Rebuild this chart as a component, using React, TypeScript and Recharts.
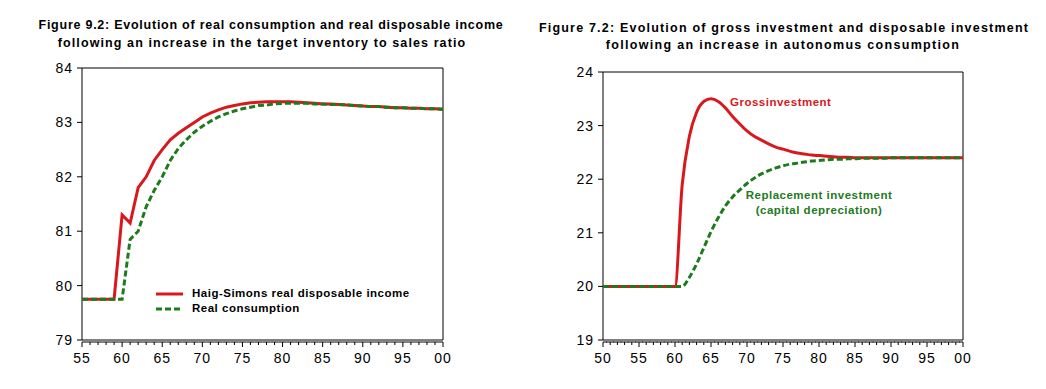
import React from 'react';
import { LineChart, Line, XAxis, YAxis, ReferenceArea } from 'recharts';

const RED = '#d8181c';
const GREEN = '#1d7a1d';
const FONT = 'Arial, "Liberation Sans", sans-serif';

// Figure 9.2 — years 1955..2000
const years92 = [
  1955, 1956, 1957, 1958, 1959, 1960, 1961, 1962, 1963, 1964, 1965, 1966,
  1967, 1968, 1969, 1970, 1971, 1972, 1973, 1974, 1975, 1976, 1977, 1978,
  1979, 1980, 1981, 1982, 1983, 1984, 1985, 1986, 1987, 1988, 1989, 1990,
  1991, 1992, 1993, 1994, 1995, 1996, 1997, 1998, 1999, 2000,
];
const haigSimonsIncome = [
  79.75, 79.75, 79.75, 79.75, 79.75, 81.3, 81.15, 81.8, 82.0, 82.3, 82.5, 82.68,
  82.8, 82.9, 83.0, 83.1, 83.17, 83.23, 83.28, 83.31, 83.34, 83.36, 83.37, 83.38,
  83.38, 83.38, 83.38, 83.37, 83.36, 83.35, 83.34, 83.34, 83.33, 83.32, 83.31, 83.3,
  83.29, 83.29, 83.28, 83.27, 83.27, 83.26, 83.26, 83.25, 83.25, 83.24,
];
const realConsumption = [
  79.75, 79.75, 79.75, 79.75, 79.75, 79.75, 80.85, 81.0, 81.45, 81.75, 82.0, 82.3,
  82.52, 82.68, 82.82, 82.93, 83.02, 83.1, 83.16, 83.21, 83.25, 83.28, 83.31, 83.32,
  83.34, 83.35, 83.35, 83.35, 83.35, 83.34, 83.34, 83.33, 83.33, 83.32, 83.31, 83.3,
  83.29, 83.29, 83.28, 83.27, 83.27, 83.26, 83.26, 83.25, 83.25, 83.24,
];
const yTicks92 = [79, 80, 81, 82, 83, 84];

// Figure 7.2 — years 1950..2000
const years72 = [
  1950, 1951, 1952, 1953, 1954, 1955, 1956, 1957, 1958, 1959, 1960, 1961,
  1962, 1963, 1964, 1965, 1966, 1967, 1968, 1969, 1970, 1971, 1972, 1973,
  1974, 1975, 1976, 1977, 1978, 1979, 1980, 1981, 1982, 1983, 1984, 1985,
  1986, 1987, 1988, 1989, 1990, 1991, 1992, 1993, 1994, 1995, 1996, 1997,
  1998, 1999, 2000,
];
const grossInvestment = [
  20, 20, 20, 20, 20, 20, 20, 20, 20, 20, 20, 21.9,
  22.8, 23.25, 23.45, 23.5, 23.45, 23.33, 23.17, 23.03, 22.9, 22.8, 22.73, 22.66,
  22.6, 22.56, 22.52, 22.49, 22.47, 22.45, 22.44, 22.43, 22.42, 22.41, 22.41, 22.4,
  22.4, 22.4, 22.4, 22.4, 22.4, 22.4, 22.4, 22.4, 22.4, 22.4, 22.4, 22.4,
  22.4, 22.4, 22.4,
];
const replacementInvestment = [
  20, 20, 20, 20, 20, 20, 20, 20, 20, 20, 20, 20,
  20.17, 20.42, 20.72, 21.02, 21.28, 21.5, 21.67, 21.8, 21.92, 22.02, 22.1, 22.16,
  22.21, 22.25, 22.28, 22.3, 22.32, 22.34, 22.35, 22.36, 22.37, 22.37, 22.38, 22.38,
  22.39, 22.39, 22.39, 22.39, 22.4, 22.4, 22.4, 22.4, 22.4, 22.4, 22.4, 22.4,
  22.4, 22.4, 22.4,
];
const yTicks72 = [19, 20, 21, 22, 23, 24];

const data92 = years92.map((year, i) => ({ year, income: haigSimonsIncome[i], consumption: realConsumption[i] }));
const data72 = years72.map((year, i) => ({ year, gross: grossInvestment[i], replacement: replacementInvestment[i] }));

// year ticks with a small hanging axis line, labels every five years
function YearTick(props: any) {
  const { x, y, payload, index, visibleTicksCount } = props;
  const year = payload.value as number;
  const major = year % 5 === 0;
  const base = y + 2;
  const x1 = index === 0 ? x : x - 4;
  const x2 = index === visibleTicksCount - 1 ? x : x + 4;
  return (
    <g>
      <line x1={x1} x2={x2} y1={base} y2={base} stroke="#000" strokeWidth={1} />
      <line x1={x} x2={x} y1={base} y2={base + (major ? 5 : 3)} stroke="#000" strokeWidth={1} />
      {major && (
        <text x={x} y={base + 16} textAnchor="middle" dominantBaseline="central"
          fontSize={14} fontFamily={FONT} fill="#000" letterSpacing={1}>
          {String(year % 100).padStart(2, '0')}
        </text>
      )}
    </g>
  );
}

const yTickStyle = { fontSize: 14, fill: '#000', fontFamily: FONT, letterSpacing: 1 };

const Title = ({ left, top, spacing, children }: { left: number; top: number; spacing: number; children: React.ReactNode }) => (
  <div style={{
    position: 'absolute', left: left - 300, top, width: 600, textAlign: 'center', whiteSpace: 'nowrap',
    fontFamily: FONT, fontWeight: 700, fontSize: 12.5, lineHeight: '14px', color: '#000', letterSpacing: spacing,
  }}>{children}</div>
);

const noteStyle: React.CSSProperties = { position: 'absolute', fontFamily: FONT, fontWeight: 700, fontSize: 11.5, letterSpacing: 0.5, whiteSpace: 'nowrap' };

export default function App() {
  return (
    <div style={{ position: 'absolute', left: 0, top: 0, width: 1046, height: 389, background: '#fff', overflow: 'hidden' }}>
      <Title left={271} top={18} spacing={0.75}>Figure 9.2: Evolution of real consumption and real disposable income</Title>
      <Title left={262} top={36} spacing={1.1}>following an increase in the target inventory to sales ratio</Title>
      <Title left={784} top={21} spacing={1.2}>Figure 7.2: Evolution of gross investment and disposable investment</Title>
      <Title left={783} top={38} spacing={1.3}>following an increase in autonomus consumption</Title>

      <div style={{ position: 'absolute', left: 0, top: 0 }}>
        <LineChart width={520} height={389} data={data92} margin={{ top: 68, right: 77, left: 42, bottom: 19 }}>
          <XAxis dataKey="year" type="number" domain={[1955, 2000]} ticks={years92} interval={0}
            axisLine={false} tickLine={false} tickSize={0} tickMargin={0} height={30} tick={<YearTick />} />
          <YAxis type="number" domain={[79, 84]} ticks={yTicks92} width={40} axisLine={false}
            tickLine={{ stroke: '#000' }} tickSize={5} tickMargin={4} tick={yTickStyle} />
          <ReferenceArea x1={1955} x2={2000} y1={79} y2={84} fill="none" stroke="#000" strokeWidth={1} ifOverflow="visible" />
          <Line dataKey="income" type="linear" stroke={RED} strokeWidth={3} dot={false} isAnimationActive={false} />
          <Line dataKey="consumption" type="linear" stroke={GREEN} strokeWidth={3} strokeDasharray="6 3" dot={false} isAnimationActive={false} />
        </LineChart>
      </div>

      {/* legend of figure 9.2 */}
      <div style={{ ...noteStyle, left: 156, top: 286, color: '#000', lineHeight: '15px' }}>
        <div style={{ display: 'flex', alignItems: 'center' }}>
          <svg width={27} height={6} style={{ marginRight: 9 }}><line x1={0} x2={27} y1={3} y2={3} stroke={RED} strokeWidth={3} /></svg>
          Haig-Simons real disposable income
        </div>
        <div style={{ display: 'flex', alignItems: 'center' }}>
          <svg width={27} height={6} style={{ marginRight: 9 }}><line x1={0} x2={27} y1={3} y2={3} stroke={GREEN} strokeWidth={3} strokeDasharray="6 3" /></svg>
          Real consumption
        </div>
      </div>

      <div style={{ position: 'absolute', left: 520, top: 0 }}>
        <LineChart width={526} height={389} data={data72} margin={{ top: 72, right: 83, left: 43, bottom: 19 }}>
          <XAxis dataKey="year" type="number" domain={[1950, 2000]} ticks={years72} interval={0}
            axisLine={false} tickLine={false} tickSize={0} tickMargin={0} height={30} tick={<YearTick />} />
          <YAxis type="number" domain={[19, 24]} ticks={yTicks72} width={40} axisLine={false}
            tickLine={{ stroke: '#000' }} tickSize={5} tickMargin={4} tick={yTickStyle} />
          <ReferenceArea x1={1950} x2={2000} y1={19} y2={24} fill="none" stroke="#000" strokeWidth={1} ifOverflow="visible" />
          <Line dataKey="gross" type="monotone" stroke={RED} strokeWidth={3} dot={false} isAnimationActive={false} />
          <Line dataKey="replacement" type="monotone" stroke={GREEN} strokeWidth={3} strokeDasharray="6 3" dot={false} isAnimationActive={false} />
        </LineChart>
      </div>

      <div style={{ ...noteStyle, left: 730, top: 96, color: RED }}>
        Grossinvestment
      </div>
      <div style={{ ...noteStyle, left: 819 - 100, top: 188, width: 200, textAlign: 'center', color: GREEN, lineHeight: '15px' }}>
        Replacement investment<br />(capital depreciation)
      </div>
    </div>
  );
}
